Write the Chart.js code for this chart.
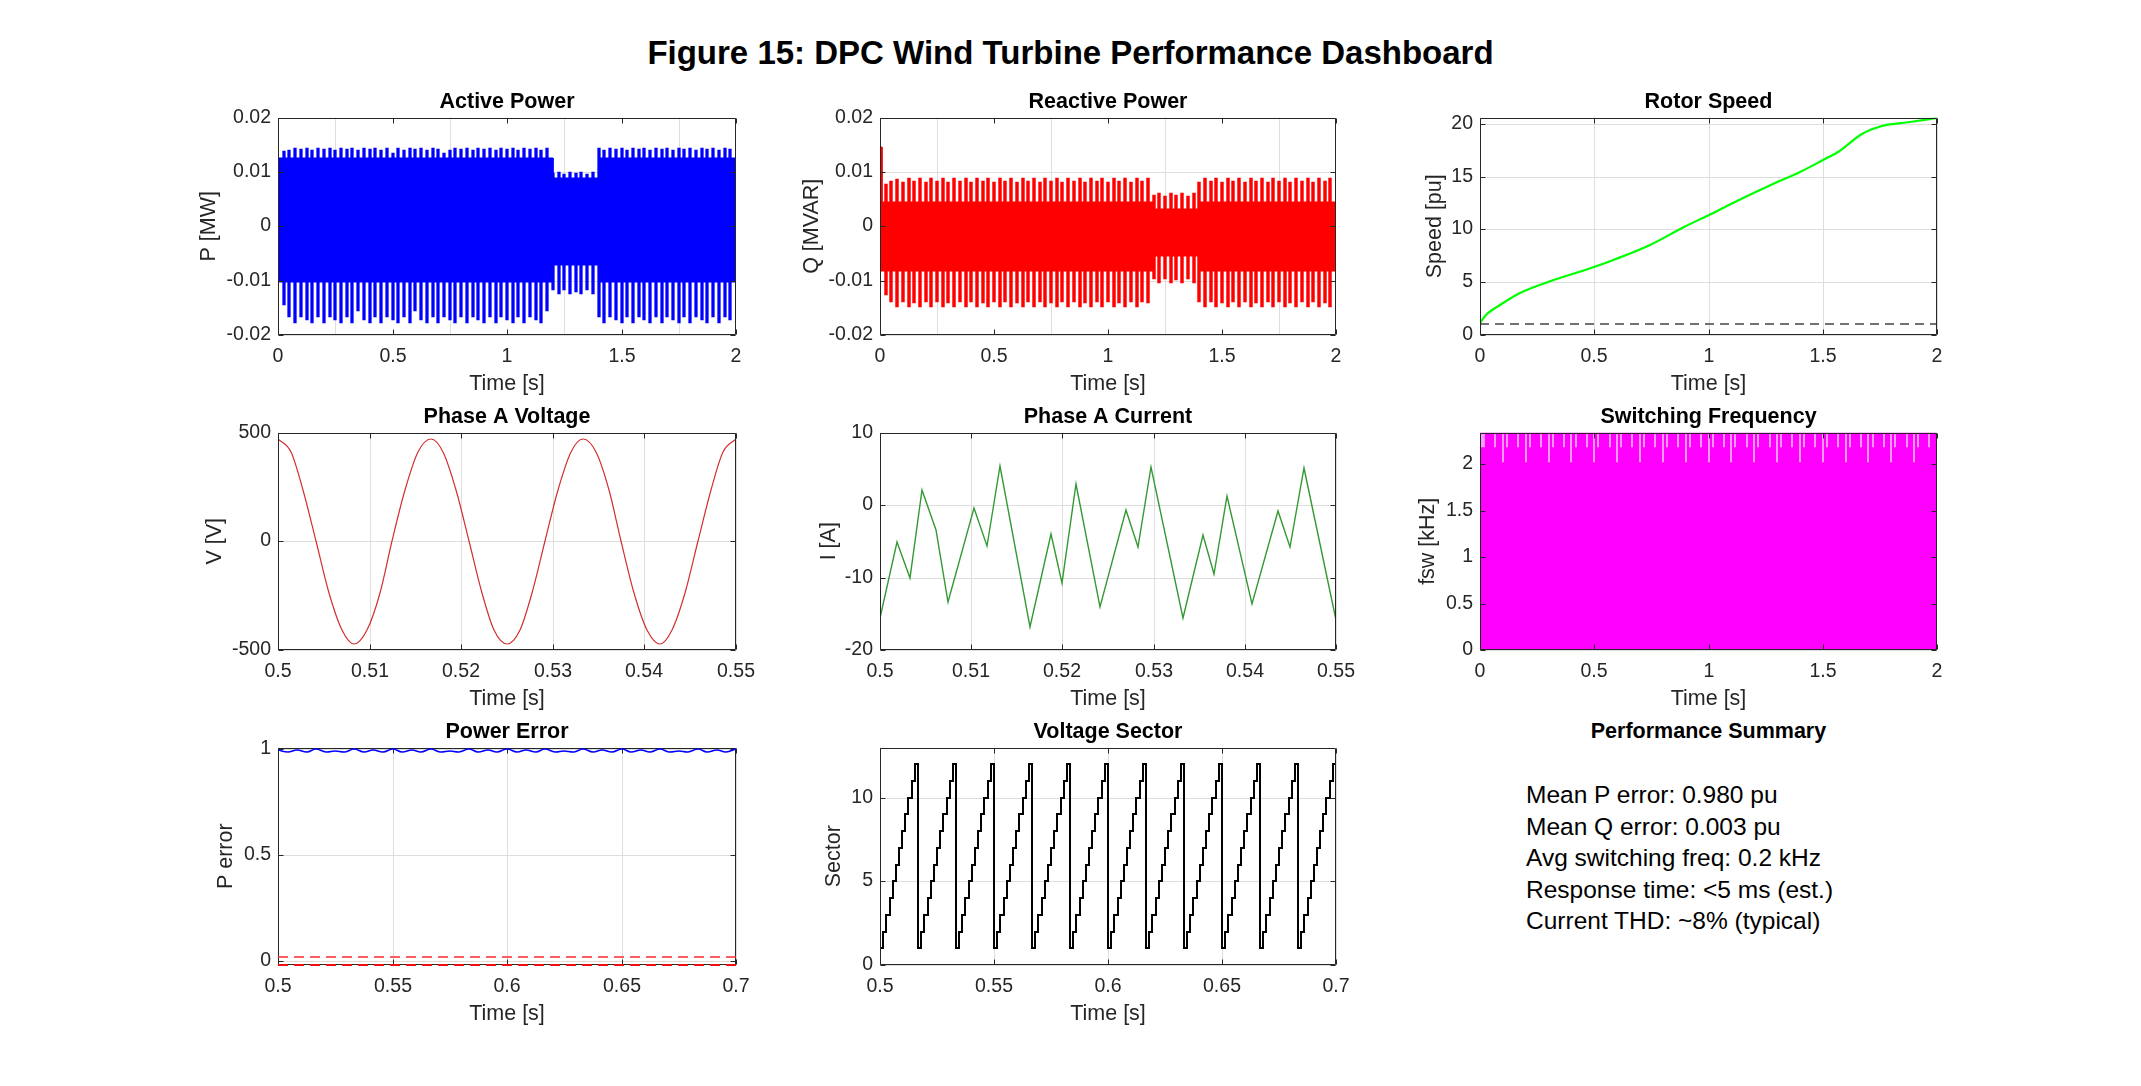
<!DOCTYPE html>
<html>
<head>
<meta charset="utf-8">
<title>DPC Wind Turbine Performance Dashboard</title>
<script src="https://cdn.jsdelivr.net/npm/chart.js@4.4.1/dist/chart.umd.min.js"></script>
<style>
  body { margin: 0; background: #fff; }
  #fig { position: relative; width: 2141px; height: 1086px; background: #fff; overflow: hidden;
         font-family: "Liberation Sans", Arial, Helvetica, sans-serif; color: #000; }
  #fig canvas { position: absolute; }
  #mainTitle { position: absolute; left: 0; top: 33px; width: 2141px; text-align: center;
               font-weight: bold; font-size: 33px; line-height: 40px; }
  #sumTitle { position: absolute; left: 1480px; top: 718px; width: 457px; text-align: center;
              font-weight: bold; font-size: 21.5px; line-height: 27px; }
  #summary { position: absolute; left: 1526px; top: 779px; font-size: 24.5px; line-height: 31.5px; }
</style>
</head>
<body>
<div id="fig">
  <div id="mainTitle"></div>
  <div id="sumTitle"></div>
  <div id="summary"></div>
</div>
<script>
// ---- texts ----
const figTitle = 'Figure 15: DPC Wind Turbine Performance Dashboard';
const summaryTitle = 'Performance Summary';
const summaryLines = [
  'Mean P error: 0.980 pu',
  'Mean Q error: 0.003 pu',
  'Avg switching freq: 0.2 kHz',
  'Response time: <5 ms (est.)',
  'Current THD: ~8% (typical)'
];

// ---- tick values ----
const ticks0to2 = [0, 0.5, 1, 1.5, 2];
const ticksWave = [0.5, 0.51, 0.52, 0.53, 0.54, 0.55];
const ticksZoom = [0.5, 0.55, 0.6, 0.65, 0.7];
const ticksPower = [-0.02, -0.01, 0, 0.01, 0.02];
const ticksSpeed = [0, 5, 10, 15, 20];
const ticksVolt = [-500, 0, 500];
const ticksCurr = [-20, -10, 0, 10];
const ticksFsw = [0, 0.5, 1, 1.5, 2];
const ticksErr = [0, 0.5, 1];
const ticksSector = [0, 5, 10];

// ---- active / reactive power: ripple peaks (every 25 ms) and the solid core ----
const spikeT = [
  0.025,0.05,0.075,0.1,0.125,0.15,0.175,0.2,0.225,0.25,
  0.275,0.3,0.325,0.35,0.375,0.4,0.425,0.45,0.475,0.5,
  0.525,0.55,0.575,0.6,0.625,0.65,0.675,0.7,0.725,0.75,
  0.775,0.8,0.825,0.85,0.875,0.9,0.925,0.95,0.975,1,
  1.025,1.05,1.075,1.1,1.125,1.15,1.175,1.2,1.225,1.25,
  1.275,1.3,1.325,1.35,1.375,1.4,1.425,1.45,1.475,1.5,
  1.525,1.55,1.575,1.6,1.625,1.65,1.675,1.7,1.725,1.75,
  1.775,1.8,1.825,1.85,1.875,1.9,1.925,1.95,1.975
];
const activeHi = [
  0.0138,0.0141,0.0144,0.0142,0.0144,0.0141,0.0144,0.0142,0.0143,0.0141,
  0.0144,0.0142,0.0143,0.0141,0.0144,0.0142,0.0143,0.0141,0.0144,0.0135,
  0.0143,0.0141,0.0144,0.0142,0.0143,0.0141,0.0144,0.0142,0.0135,0.0141,
  0.0144,0.0142,0.0143,0.0141,0.0144,0.0142,0.0143,0.0141,0.0144,0.0142,
  0.0143,0.0141,0.0144,0.0142,0.0143,0.0141,0.0144,0.0098,0.0099,0.0097,
  0.0099,0.0098,0.0099,0.0097,0.0099,0.0143,0.0141,0.0144,0.0142,0.0143,
  0.0141,0.0144,0.0142,0.0143,0.0141,0.0144,0.0142,0.0143,0.0141,0.0144,
  0.0142,0.0143,0.0141,0.0144,0.0142,0.0143,0.0141,0.0144,0.0142
];
const activeLo = [
  -0.0145,-0.0166,-0.0178,-0.0166,-0.0172,-0.0178,-0.0166,-0.0178,-0.0166,-0.0172,
  -0.0178,-0.0166,-0.0178,-0.0155,-0.0172,-0.0178,-0.0166,-0.0178,-0.0166,-0.0172,
  -0.0178,-0.0166,-0.0178,-0.0155,-0.0172,-0.0178,-0.0166,-0.0178,-0.0166,-0.0172,
  -0.0178,-0.0166,-0.0178,-0.0166,-0.0172,-0.0178,-0.0166,-0.0178,-0.0166,-0.0172,
  -0.0178,-0.0166,-0.0178,-0.0166,-0.0172,-0.0178,-0.0155,-0.0118,-0.0124,-0.0118,
  -0.0124,-0.0120,-0.0124,-0.0118,-0.0124,-0.0166,-0.0178,-0.0166,-0.0172,-0.0178,
  -0.0166,-0.0178,-0.0166,-0.0172,-0.0178,-0.0166,-0.0178,-0.0166,-0.0172,-0.0178,
  -0.0166,-0.0178,-0.0166,-0.0172,-0.0178,-0.0166,-0.0178,-0.0166,-0.0172
];
const activeBandT = [0, 0.005, 1.2, 1.2, 1.4, 1.4, 2];
const activeBandHi = [0.006, 0.0125, 0.0125, 0.0089, 0.0089, 0.0125, 0.0125];
const activeBandLo = [0, -0.0103, -0.0103, -0.0072, -0.0072, -0.0103, -0.0103];

const reactiveHi = [
  0.0078,0.0084,0.0086,0.0082,0.0089,0.0083,0.0089,0.0081,0.0089,0.0083,
  0.0089,0.0082,0.0089,0.0083,0.0089,0.0081,0.0089,0.0083,0.0089,0.0082,
  0.0089,0.0083,0.0089,0.0081,0.0089,0.0083,0.0089,0.0082,0.0089,0.0083,
  0.0089,0.0081,0.0089,0.0083,0.0089,0.0082,0.0089,0.0083,0.0089,0.0081,
  0.0089,0.0083,0.0089,0.0082,0.0089,0.0083,0.0089,0.0058,0.0061,0.0055,
  0.0061,0.0058,0.0061,0.0055,0.0061,0.0082,0.0089,0.0083,0.0089,0.0081,
  0.0089,0.0083,0.0089,0.0082,0.0089,0.0083,0.0089,0.0081,0.0089,0.0083,
  0.0089,0.0082,0.0089,0.0083,0.0089,0.0081,0.0089,0.0083,0.0089
];
const reactiveLo = [
  -0.0127,-0.0139,-0.0149,-0.0139,-0.0149,-0.0141,-0.0149,-0.0139,-0.0149,-0.0139,
  -0.0149,-0.0141,-0.0149,-0.0139,-0.0149,-0.0139,-0.0149,-0.0141,-0.0149,-0.0139,
  -0.0149,-0.0139,-0.0149,-0.0141,-0.0149,-0.0139,-0.0149,-0.0139,-0.0149,-0.0141,
  -0.0149,-0.0139,-0.0149,-0.0139,-0.0149,-0.0141,-0.0149,-0.0139,-0.0149,-0.0139,
  -0.0149,-0.0141,-0.0149,-0.0139,-0.0149,-0.0139,-0.0141,-0.0097,-0.0105,-0.0097,
  -0.0105,-0.0099,-0.0105,-0.0097,-0.0105,-0.0139,-0.0149,-0.0139,-0.0149,-0.0141,
  -0.0149,-0.0139,-0.0149,-0.0139,-0.0149,-0.0141,-0.0149,-0.0139,-0.0149,-0.0139,
  -0.0149,-0.0141,-0.0149,-0.0139,-0.0149,-0.0139,-0.0149,-0.0141,-0.0149
];
const reactiveBandT = [0, 0.002, 0.008, 0.009, 1.2, 1.2, 1.4, 1.4, 2];
const reactiveBandHi = [0.003, 0.0145, 0.0145, 0.0045, 0.0045, 0.0031, 0.0031, 0.0045, 0.0045];
const reactiveBandLo = [0, -0.0082, -0.0082, -0.0082, -0.0082, -0.0055, -0.0055, -0.0082, -0.0082];

// ---- rotor speed ----
const rotorT = [0,0.027,0.087,0.176,0.296,0.5,0.595,0.744,0.894,1,1.133,1.283,1.402,1.5,1.566,1.671,1.761,1.88,2];
const rotorW = [1.1,1.9,2.83,3.94,5.04,6.46,7.24,8.5,10.24,11.34,12.76,14.33,15.43,16.54,17.3,19.06,19.75,20.16,20.6];
const rotorRefT = [0, 2];
const rotorRef = [1, 1];

// ---- phase A voltage / current ----
const voltT = [
  0.5,0.50139,0.50278,0.50417,0.50556,0.50694,0.50833,0.50972,0.51111,0.5125,
  0.51389,0.51528,0.51667,0.51806,0.51944,0.52083,0.52222,0.52361,0.525,0.52639,
  0.52778,0.52917,0.53056,0.53194,0.53333,0.53472,0.53611,0.5375,0.53889,0.54028,
  0.54167,0.54306,0.54444,0.54583,0.54722,0.54861,0.55
];
const voltA = [
  472,409,236,0,-236,-409,-472,-409,-236,0,
  236,409,472,409,236,0,-236,-409,-472,-409,
  -236,0,236,409,472,409,236,0,-236,-409,
  -472,-409,-236,0,236,409,472
];
const currT = [
  0.5,0.50188,0.5033,0.50465,0.50614,0.50749,0.51027,0.51168,0.51311,0.51647,
  0.51872,0.52,0.52153,0.52415,0.52693,0.52827,0.5297,0.53322,0.5354,0.53667,
  0.5381,0.54079,0.54363,0.54498,0.54648,0.55
];
const currA = [
  -15.6,-5.1,-10,2.05,-3.4,-13.4,-0.4,-5.7,5.4,-16.8,
  -4,-10.7,2.9,-14,-0.7,-5.8,5.25,-15.6,-4.2,-9.45,
  1.3,-13.65,-0.8,-5.8,5.15,-15.8
];

// ---- switching frequency: solid band with short drop-outs near the top ----
const fswBandT = [0, 2];
const fswBandHi = [2.34, 2.34];
const fswGapT = [
  0.009,0.019,0.067, 0.1,0.118,0.167, 0.2,0.218,0.267, 0.3,0.318,0.367,
  0.4,0.418,0.467, 0.5,0.518,0.567, 0.6,0.618,0.667, 0.7,0.718,0.767,
  0.8,0.818,0.867, 0.9,0.918,0.967, 1,1.018,1.067, 1.1,1.118,1.167,
  1.2,1.218,1.267, 1.3,1.318,1.367, 1.4,1.418,1.467, 1.5,1.518,1.567,
  1.6,1.618,1.667, 1.7,1.718,1.767, 1.8,1.818,1.867, 1.9,1.918,1.967
];
const fswGapLo = [
  2.185,2.185,2.185, 2.02,2.185,2.185, 2.02,2.185,2.185, 2.02,2.185,2.185,
  2.02,2.185,2.185, 2.02,2.185,2.185, 2.02,2.185,2.185, 2.02,2.185,2.185,
  2.02,2.185,2.185, 2.02,2.185,2.185, 2.02,2.185,2.185, 2.02,2.185,2.185,
  2.02,2.185,2.185, 2.02,2.185,2.185, 2.02,2.185,2.185, 2.02,2.185,2.185,
  2.02,2.185,2.185, 2.02,2.185,2.185, 2.02,2.185,2.185, 2.02,2.185,2.185
];

// ---- power error ----
const errT = [
  0.5,0.50417,0.50833,0.5125,0.51667,0.52083,0.525,0.52917,0.53333,0.5375,
  0.54167,0.54583,0.55,0.55417,0.55833,0.5625,0.56667,0.57083,0.575,0.57917,
  0.58333,0.5875,0.59167,0.59583,0.6,0.60417,0.60833,0.6125,0.61667,0.62083,
  0.625,0.62917,0.63333,0.6375,0.64167,0.64583,0.65,0.65417,0.65833,0.6625,
  0.66667,0.67083,0.675,0.67917,0.68333,0.6875,0.69167,0.69583,0.7
];
const errP = [
  0.994,0.984,0.991,0.986,0.998,0.985,0.990,0.984,0.997,0.986,
  0.992,0.985,0.998,0.984,0.991,0.986,0.997,0.985,0.990,0.984,
  0.998,0.986,0.992,0.985,0.997,0.984,0.991,0.986,0.998,0.985,
  0.990,0.984,0.997,0.986,0.992,0.985,0.998,0.984,0.991,0.986,
  0.997,0.985,0.990,0.984,0.998,0.986,0.992,0.985,0.996
];
const errLimT = [0.5, 0.7];
const errLimHi = [0.02, 0.02];
const errLimLo = [-0.02, -0.02];

// ---- voltage sector: one staircase per 60 Hz cycle ----
const sectorCycleT = [0.5,0.51667,0.53333,0.55,0.56667,0.58333,0.6,0.61667,0.63333,0.65,0.66667,0.68333];
const sectorStepDt = [0,0.00139,0.00278,0.00417,0.00556,0.00694,0.00833,0.00972,0.01111,0.0125,0.01389,0.01528];
const sectorLevels = [1,2,3,4,5,6,7,8,9,10,11,12];
const sectorEndT = 0.7;

// ---------------------------------------------------------------
Chart.defaults.font.family = '"Liberation Sans", Arial, Helvetica, sans-serif';
Chart.defaults.color = '#262626';

const AXIS = '#262626';
const GRID = '#dedede';
// subplot grid (axes box edges, px)
const colLeft = [278, 880, 1480], colRight = [736, 1336, 1937];
const rowTop = [117, 432, 747], rowBottom = [335, 650, 965];
const PAD_L = 150, PAD_R = 40, PAD_T = 50, PAD_B = 75;

const fig = document.getElementById('fig');
document.getElementById('mainTitle').textContent = figTitle;
document.getElementById('sumTitle').textContent = summaryTitle;
summaryLines.forEach(s => {
  const d = document.createElement('div');
  d.textContent = s;
  document.getElementById('summary').appendChild(d);
});

// black box with inward tick marks, MATLAB style
function drawBox(chart) {
  const { ctx, chartArea: a, scales } = chart;
  const L = Math.round(a.left) + 0.5, R = Math.round(a.right) - 0.5;
  const T = Math.round(a.top) + 0.5, B = Math.round(a.bottom) - 0.5;
  const tl = 5;
  ctx.save();
  ctx.strokeStyle = AXIS;
  ctx.lineWidth = 1;
  ctx.beginPath();
  ctx.rect(L, T, R - L, B - T);
  scales.x.ticks.forEach(t => {
    const px = Math.round(scales.x.getPixelForValue(t.value)) + 0.5;
    ctx.moveTo(px, B); ctx.lineTo(px, B - tl);
    ctx.moveTo(px, T); ctx.lineTo(px, T + tl);
  });
  scales.y.ticks.forEach(t => {
    const py = Math.round(scales.y.getPixelForValue(t.value)) + 0.5;
    ctx.moveTo(L, py); ctx.lineTo(L + tl, py);
    ctx.moveTo(R, py); ctx.lineTo(R - tl, py);
  });
  ctx.stroke();
  ctx.restore();
}
const axesBox = {
  id: 'axesBox',
  beforeDatasetsDraw(chart, args, opts) { if (opts.under) drawBox(chart); },
  afterDatasetsDraw(chart, args, opts) { if (!opts.under) drawBox(chart); }
};

const pts = (xs, ys) => xs.map((x, i) => ({ x: x, y: ys[i] }));

function lineDs(xs, ys, color, width, extra) {
  return Object.assign({
    type: 'line', data: pts(xs, ys), borderColor: color, backgroundColor: color,
    borderWidth: width, pointRadius: 0, fill: false, tension: 0
  }, extra || {});
}

function rangeBars(xs, lo, hi, color, order, thick) {
  return {
    type: 'bar', data: xs.map((x, i) => ({ x: x, y: [lo[i], hi[i]] })),
    backgroundColor: color, borderWidth: 0, barThickness: thick, order: order
  };
}

function axis(a, which, label, pad) {
  return {
    type: 'linear', min: a.min, max: a.max, offset: false, alignToPixels: true,
    afterBuildTicks: s => { s.ticks = a.ticks.map(v => ({ value: v })); },
    afterFit: s => { if (which === 'x') s.height = PAD_B; else s.width = PAD_L; },
    grid: { color: GRID, drawTicks: false, lineWidth: 1 },
    border: { display: false },
    ticks: {
      autoSkip: false, maxRotation: 0, minRotation: 0,
      padding: which === 'x' ? 9.6 : 7, color: AXIS, font: { size: 19.5 },
      callback: v => String(v)
    },
    title: {
      display: true, text: label, color: AXIS, font: { size: 21.5 },
      padding: which === 'x' ? { top: 0, bottom: pad } : { top: pad, bottom: 0 }
    }
  };
}

function panel(p) {
  const c = document.createElement('canvas');
  const w = colRight[p.col] - colLeft[p.col];
  const h = rowBottom[p.row] - rowTop[p.row];
  c.width = w + PAD_L + PAD_R;
  c.height = h + PAD_T + PAD_B;
  c.style.left = (colLeft[p.col] - PAD_L) + 'px';
  c.style.top = (rowTop[p.row] - PAD_T) + 'px';
  fig.appendChild(c);
  return new Chart(c, {
    type: 'line',
    data: { datasets: p.datasets },
    plugins: [axesBox],
    options: {
      responsive: false, animation: false, events: [],
      layout: { padding: { left: 0, right: PAD_R, top: 0, bottom: 0 }, autoPadding: false },
      plugins: {
        legend: { display: false },
        tooltip: { enabled: false },
        axesBox: { under: !!p.boxUnder },
        title: {
          display: true, text: p.title, color: '#000', fullSize: false,
          font: { size: 21.5, weight: 'bold', lineHeight: 1 },
          padding: { top: 24, bottom: 5 }
        }
      },
      scales: {
        x: axis(p.x, 'x', 'Time [s]', 13.1),
        y: axis(p.y, 'y', p.yLabel, p.yPad)
      }
    }
  });
}

// staircase points for the sector plot
const sectorPts = [{ x: sectorCycleT[0], y: sectorLevels[sectorLevels.length - 1] }];
sectorCycleT.forEach(c => {
  sectorStepDt.forEach((dt, j) => sectorPts.push({ x: c + dt, y: sectorLevels[j] }));
});
sectorPts.push({ x: sectorEndT, y: sectorLevels[sectorLevels.length - 1] });

// Active Power
panel({
  col: 0, row: 0, title: 'Active Power', yLabel: 'P [MW]', yPad: 68.1,
  x: { min: 0, max: 2, ticks: ticks0to2 },
  y: { min: -0.02, max: 0.02, ticks: ticksPower },
  datasets: [
    rangeBars(spikeT, activeLo, activeHi, '#0000ff', 0, 2.6),
    lineDs(activeBandT, activeBandHi, '#0000ff', 1, { fill: '+1', order: 1 }),
    lineDs(activeBandT, activeBandLo, '#0000ff', 1, { order: 2 })
  ]
});

// Reactive Power
panel({
  col: 1, row: 0, title: 'Reactive Power', yLabel: 'Q [MVAR]', yPad: 69.1,
  x: { min: 0, max: 2, ticks: ticks0to2 },
  y: { min: -0.02, max: 0.02, ticks: ticksPower },
  datasets: [
    rangeBars(spikeT, reactiveLo, reactiveHi, '#ff0000', 0, 2.8),
    lineDs(reactiveBandT, reactiveBandHi, '#ff0000', 1, { fill: '+1', order: 1 }),
    lineDs(reactiveBandT, reactiveBandLo, '#ff0000', 1, { order: 2 })
  ]
});

// Rotor Speed
panel({
  col: 2, row: 0, title: 'Rotor Speed', yLabel: 'Speed [pu]', yPad: 92.6,
  x: { min: 0, max: 2, ticks: ticks0to2 },
  y: { min: 0, max: 20.6, ticks: ticksSpeed },
  datasets: [
    lineDs(rotorT, rotorW, '#00ff00', 2.2, { cubicInterpolationMode: 'monotone', order: 0 }),
    lineDs(rotorRefT, rotorRef, '#444444', 1.3, { borderDash: [9, 6], order: 1 })
  ]
});

// Phase A Voltage
panel({
  col: 0, row: 1, title: 'Phase A Voltage', yLabel: 'V [V]', yPad: 74.1,
  x: { min: 0.5, max: 0.55, ticks: ticksWave },
  y: { min: -500, max: 500, ticks: ticksVolt },
  datasets: [
    lineDs(voltT, voltA, '#d22f2f', 1.2, { cubicInterpolationMode: 'monotone' })
  ]
});

// Phase A Current
panel({
  col: 1, row: 1, title: 'Phase A Current', yLabel: 'I [A]', yPad: 86.6,
  x: { min: 0.5, max: 0.55, ticks: ticksWave },
  y: { min: -20, max: 10, ticks: ticksCurr },
  datasets: [
    lineDs(currT, currA, '#339933', 1.4)
  ]
});

// Switching Frequency
panel({
  col: 2, row: 1, title: 'Switching Frequency', yLabel: 'fsw [kHz]', yPad: 85.6,
  x: { min: 0, max: 2, ticks: ticks0to2 },
  y: { min: 0, max: 2.34, ticks: ticksFsw },
  datasets: [
    rangeBars(fswGapT, fswGapLo, fswGapT.map(() => fswBandHi[0]), 'rgba(255,215,255,0.85)', 0, 1),
    lineDs(fswBandT, fswBandHi, '#ff00ff', 1, { fill: 'origin', order: 1 })
  ]
});

// Power Error
panel({
  col: 0, row: 2, title: 'Power Error', yLabel: 'P error', yPad: 85.1, boxUnder: true,
  x: { min: 0.5, max: 0.7, ticks: ticksZoom },
  y: { min: -0.02, max: 1.005, ticks: ticksErr },
  datasets: [
    lineDs(errT, errP, '#0000ff', 1.6, { tension: 0.4, order: 0 }),
    lineDs(errLimT, errLimHi, '#ff2a2a', 1.4, { borderDash: [10, 6], order: 1 }),
    lineDs(errLimT, errLimLo, '#ee1111', 1.8, { borderDash: [10, 6], order: 2, clip: 4 })
  ]
});

// Voltage Sector
panel({
  col: 1, row: 2, title: 'Voltage Sector', yLabel: 'Sector', yPad: 91.6,
  x: { min: 0.5, max: 0.7, ticks: ticksZoom },
  y: { min: 0, max: 13, ticks: ticksSector },
  datasets: [
    { type: 'line', data: sectorPts, borderColor: '#000', borderWidth: 2,
      pointRadius: 0, fill: false, stepped: true }
  ]
});
</script>
</body>
</html>
